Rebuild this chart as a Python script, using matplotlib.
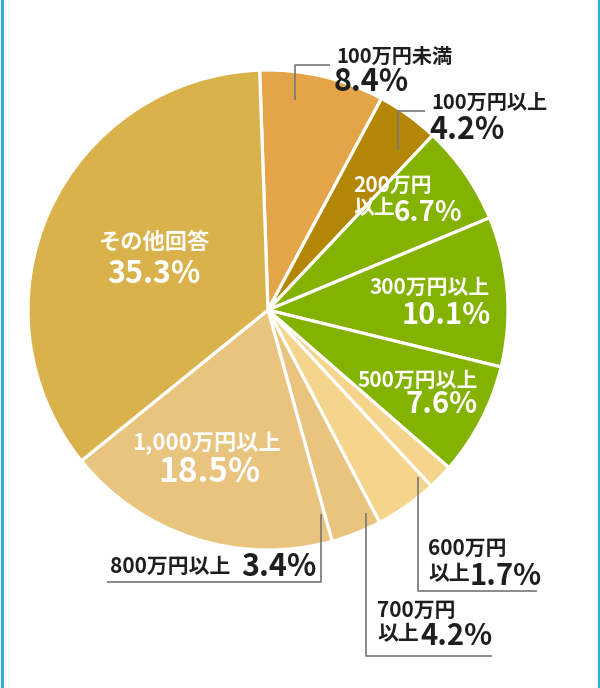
import matplotlib
matplotlib.use("Agg")
import matplotlib.pyplot as plt
from matplotlib.lines import Line2D

plt.rcParams['font.family'] = ['Noto Sans CJK JP', 'DejaVu Sans']

categories = ["100万円未満", "100万円以上", "200万円以上", "300万円以上", "500万円以上",
              "600万円以上", "700万円以上", "800万円以上", "1,000万円以上", "その他回答"]
values = [8.4, 4.2, 6.7, 10.1, 7.6, 1.7, 4.2, 3.4, 18.5, 35.3]
colors = ["#E3A548", "#B38705", "#84B200", "#84B200", "#84B200",
          "#F5D58C", "#F5D58C", "#E8C47E", "#E8C47E", "#D9B24B"]

W, H = 600, 688
fig = plt.figure(figsize=(W / 100, H / 100), dpi=100)
ax = fig.add_axes([0, 0, 1, 1])

def Y(py):
    return H - py

cx, cy, r = 268, 310, 240
ax.pie(values, colors=colors, startangle=92, counterclock=False,
       center=(cx, Y(cy)), radius=r,
       wedgeprops=dict(edgecolor="white", linewidth=2.3))
ax.set_xlim(0, W)
ax.set_ylim(0, H)
ax.set_aspect("auto")
ax.axis("off")

dark = "#1e1e1e"
lc = "#777777"
lw = 1.2

def t(x, y, s, size, color=dark, ha="left"):
    ax.text(x, Y(y), s, fontsize=size, color=color, ha=ha, va="center",
            fontweight="bold")

def leader(pts):
    xs = [p[0] for p in pts]
    ys = [Y(p[1]) for p in pts]
    ax.plot(xs, ys, color=lc, lw=lw, solid_capstyle="butt")

pct = [f"{v}%" for v in values]

# 100万円未満
leader([(295, 100), (295, 65), (330, 65)])
t(336, 56, categories[0], 14.5)
t(334, 82, pct[0], 22)

# 100万円以上
leader([(398, 150), (398, 111), (425, 111)])
t(431, 102, categories[1], 14.5)
t(429, 130, pct[1], 22)

# 200万円以上 (inside)
t(353, 185, "200万円", 15, "white")
t(353, 208, "以上", 15, "white")
t(394, 213, pct[2], 20, "white")

# 300万円以上
t(430, 287, categories[3], 15, "white", ha="center")
t(446, 315, pct[3], 21, "white", ha="center")

# 500万円以上
t(418, 380, categories[4], 15, "white", ha="center")
t(442, 404, pct[4], 21, "white", ha="center")

# 600万円以上
leader([(418, 477), (418, 591), (537, 591)])
t(428, 548, "600万円", 15)
t(428, 574, "以上", 15)
t(470, 576, pct[5], 21)

# 700万円以上
leader([(366, 513), (366, 656), (492, 656)])
t(377, 610, "700万円", 15)
t(377, 634, "以上", 15)
t(420, 636, pct[6], 21)

# 800万円以上
leader([(321, 514), (321, 582), (107, 582)])
t(110, 566, categories[7], 15)
t(241, 567, pct[7], 22)

# 1,000万円以上
t(207, 443, categories[8], 16, "white", ha="center")
t(209, 473, pct[8], 24, "white", ha="center")

# その他回答
t(154, 242, categories[9], 16, "white", ha="center")
t(154, 274, pct[9], 22, "white", ha="center")

# cyan side borders
for x in (1.5 / W, 1 - 1.5 / W):
    fig.add_artist(Line2D([x, x], [0, 1], transform=fig.transFigure,
                          color="#2AB0DA", lw=2.2))

fig.savefig("out.png", dpi=100, facecolor="white")
